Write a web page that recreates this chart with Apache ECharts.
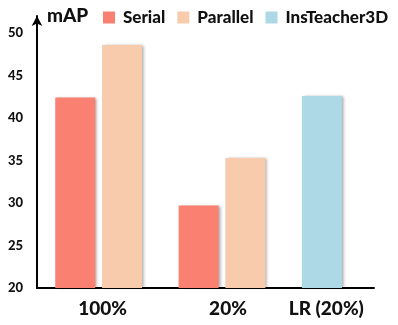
<!DOCTYPE html>
<html>
<head>
<meta charset="utf-8">
<script src="https://cdn.jsdelivr.net/npm/echarts@6/dist/echarts.min.js"></script>
<style>
html,body{margin:0;padding:0;background:#fff;}
#chart{width:398px;height:325px;}
</style>
</head>
<body>
<div id="chart"></div>
<script>
const categories = ['100%', '20%', 'LR (20%)'];
const serial = [42.4, 29.7, '-'];
const parallel = [48.6, 35.3, '-'];
const insTeacher3D = ['-', '-', 42.6];
const yTicks = [20, 25, 30, 35, 40, 45, 50];

const FONT = 'Lato';
const W = 900;
const shadow = { shadowBlur: 3, shadowColor: 'rgba(0,0,0,0.35)', shadowOffsetX: 2, shadowOffsetY: 0 };

const chart = echarts.init(document.getElementById('chart'), null, { renderer: 'canvas' });
chart.setOption({
  animation: false,
  backgroundColor: '#fff',
  textStyle: { fontFamily: FONT },
  legend: {
    left: 103, top: 9, padding: 0,
    icon: 'rect', itemWidth: 12, itemHeight: 12, itemGap: 12,
    textStyle: { fontFamily: FONT, fontWeight: W, fontSize: 17, color: '#111', padding: [0, 0, 0, 3] },
    data: ['Serial', 'Parallel', 'InsTeacher3D']
  },
  grid: [
    { left: 37, top: 16, width: 370, height: 272, containLabel: false, outerBoundsMode: 'none' },
    { left: 37, top: 16, width: 337, height: 272, containLabel: false, outerBoundsMode: 'none' }
  ],
  xAxis: [
    {
      type: 'category', gridIndex: 0, data: categories,
      axisLine: { show: false }, axisTick: { show: false },
      axisLabel: {
        margin: 11, color: '#111',
        formatter: function (v) { return '{c' + categories.indexOf(v) + '|' + v + '}'; },
        rich: {
          c0: { fontFamily: FONT, fontWeight: W, fontSize: 19, color: '#111', padding: [0, 0, 0, 8] },
          c1: { fontFamily: FONT, fontWeight: W, fontSize: 19, color: '#111', padding: [0, 0, 0, 12] },
          c2: { fontFamily: FONT, fontWeight: W, fontSize: 19, color: '#111', padding: [0, 38, 0, 0] }
        }
      }
    },
    {
      type: 'value', gridIndex: 1, min: 0, max: 1,
      axisLine: { show: true, onZero: false, lineStyle: { color: '#000', width: 2 } },
      axisTick: { show: false }, axisLabel: { show: false }, splitLine: { show: false }
    }
  ],
  yAxis: [
    {
      type: 'value', gridIndex: 0, min: yTicks[0], max: 52, interval: 5,
      name: 'mAP', nameLocation: 'end', nameGap: 0,
      nameTextStyle: { fontFamily: FONT, fontWeight: W, fontSize: 19, color: '#111', align: 'left', verticalAlign: 'middle', padding: [4, 0, 0, 10] },
      axisLine: { show: true, symbol: ['none', 'arrow'], symbolSize: [8, 10], lineStyle: { color: '#000', width: 2 } },
      axisTick: { show: false },
      splitLine: { show: false },
      axisLabel: { showMaxLabel: false, margin: 14, fontFamily: FONT, fontWeight: W, fontSize: 13, color: '#111' }
    },
    { type: 'value', gridIndex: 1, min: 0, max: 1, show: false }
  ],
  series: [
    { name: 'Serial', type: 'bar', stack: 'a', data: serial, barWidth: 40, barGap: '17%',
      itemStyle: Object.assign({ color: '#FA8072' }, shadow) },
    { name: 'Parallel', type: 'bar', stack: 'b', data: parallel, barWidth: 40, barGap: '17%',
      itemStyle: Object.assign({ color: '#F8CBAD' }, shadow) },
    { name: 'InsTeacher3D', type: 'bar', stack: 'a', data: insTeacher3D, barWidth: 40, barGap: '17%',
      itemStyle: Object.assign({ color: '#ADD8E6' }, shadow) }
  ]
});
</script>
</body>
</html>
